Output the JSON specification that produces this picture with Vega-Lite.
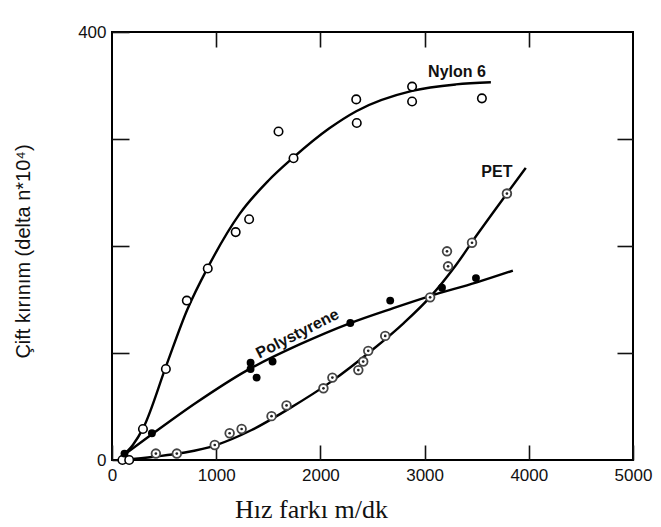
{
  "$schema": "https://vega.github.io/schema/vega-lite/v6.json",
  "width": 521,
  "height": 428,
  "autosize": "none",
  "padding": {"left": 112, "top": 32, "right": 28, "bottom": 67},
  "background": "white",
  "config": {
    "view": {"stroke": "black", "strokeWidth": 2},
    "axis": {"labelFont": "Liberation Sans", "labelFontSize": 17, "labelColor": "#111", "tickColor": "#111", "tickWidth": 1.6, "domain": false, "grid": false, "format": "d"}
  },
  "datasets": {
    "curves": [
      {"series": "Nylon 6", "x": 90, "y": 3}, {"series": "Nylon 6", "x": 200, "y": 14}, {"series": "Nylon 6", "x": 300, "y": 30}, {"series": "Nylon 6", "x": 520, "y": 88}, {"series": "Nylon 6", "x": 720, "y": 140}, {"series": "Nylon 6", "x": 920, "y": 180}, {"series": "Nylon 6", "x": 1225, "y": 230}, {"series": "Nylon 6", "x": 1500, "y": 261}, {"series": "Nylon 6", "x": 1732, "y": 282}, {"series": "Nylon 6", "x": 2086, "y": 310}, {"series": "Nylon 6", "x": 2344, "y": 326}, {"series": "Nylon 6", "x": 2880, "y": 345}, {"series": "Nylon 6", "x": 3300, "y": 351}, {"series": "Nylon 6", "x": 3636, "y": 353},
      {"series": "Polystyrene", "x": 90, "y": 3}, {"series": "Polystyrene", "x": 383, "y": 24}, {"series": "Polystyrene", "x": 800, "y": 53}, {"series": "Polystyrene", "x": 1300, "y": 84}, {"series": "Polystyrene", "x": 1800, "y": 108}, {"series": "Polystyrene", "x": 2287, "y": 128}, {"series": "Polystyrene", "x": 2700, "y": 142}, {"series": "Polystyrene", "x": 3043, "y": 153}, {"series": "Polystyrene", "x": 3500, "y": 166}, {"series": "Polystyrene", "x": 3847, "y": 177},
      {"series": "PET", "x": 110, "y": 0}, {"series": "PET", "x": 400, "y": 3}, {"series": "PET", "x": 700, "y": 7}, {"series": "PET", "x": 1000, "y": 14}, {"series": "PET", "x": 1340, "y": 28}, {"series": "PET", "x": 1700, "y": 48}, {"series": "PET", "x": 2100, "y": 73}, {"series": "PET", "x": 2500, "y": 103}, {"series": "PET", "x": 2800, "y": 128}, {"series": "PET", "x": 3050, "y": 152}, {"series": "PET", "x": 3300, "y": 182}, {"series": "PET", "x": 3500, "y": 210}, {"series": "PET", "x": 3790, "y": 249}, {"series": "PET", "x": 3971, "y": 273}
    ],
    "points": [
      {"series": "Nylon 6", "x": 100, "y": 0}, {"series": "Nylon 6", "x": 165, "y": 0}, {"series": "Nylon 6", "x": 297, "y": 29}, {"series": "Nylon 6", "x": 517, "y": 85}, {"series": "Nylon 6", "x": 718, "y": 149}, {"series": "Nylon 6", "x": 919, "y": 179}, {"series": "Nylon 6", "x": 1187, "y": 213}, {"series": "Nylon 6", "x": 1316, "y": 225}, {"series": "Nylon 6", "x": 1598, "y": 307}, {"series": "Nylon 6", "x": 1742, "y": 282}, {"series": "Nylon 6", "x": 2344, "y": 337}, {"series": "Nylon 6", "x": 2349, "y": 315}, {"series": "Nylon 6", "x": 2880, "y": 349}, {"series": "Nylon 6", "x": 2880, "y": 335}, {"series": "Nylon 6", "x": 3550, "y": 338},
      {"series": "Polystyrene", "x": 120, "y": 6}, {"series": "Polystyrene", "x": 383, "y": 25}, {"series": "Polystyrene", "x": 1330, "y": 91}, {"series": "Polystyrene", "x": 1330, "y": 85}, {"series": "Polystyrene", "x": 1388, "y": 77}, {"series": "Polystyrene", "x": 1541, "y": 92}, {"series": "Polystyrene", "x": 2287, "y": 128}, {"series": "Polystyrene", "x": 2670, "y": 149}, {"series": "Polystyrene", "x": 3167, "y": 161}, {"series": "Polystyrene", "x": 3493, "y": 170},
      {"series": "PET", "x": 421, "y": 6}, {"series": "PET", "x": 622, "y": 6}, {"series": "PET", "x": 986, "y": 14}, {"series": "PET", "x": 1129, "y": 25}, {"series": "PET", "x": 1244, "y": 29}, {"series": "PET", "x": 1531, "y": 41}, {"series": "PET", "x": 1675, "y": 51}, {"series": "PET", "x": 2029, "y": 67}, {"series": "PET", "x": 2115, "y": 77}, {"series": "PET", "x": 2364, "y": 84}, {"series": "PET", "x": 2411, "y": 92}, {"series": "PET", "x": 2459, "y": 102}, {"series": "PET", "x": 2622, "y": 116}, {"series": "PET", "x": 3053, "y": 152}, {"series": "PET", "x": 3225, "y": 181}, {"series": "PET", "x": 3215, "y": 195}, {"series": "PET", "x": 3455, "y": 203}, {"series": "PET", "x": 3790, "y": 249}
    ],
    "labels": [
      {"text": "Nylon 6", "x": 3311, "y": 363, "angle": 0},
      {"text": "PET", "x": 3694, "y": 269, "angle": 0},
      {"text": "Polystyrene", "x": 1780, "y": 118, "angle": -27}
    ]
  },
  "resolve": {"axis": {"x": "independent", "y": "independent"}},
  "layer": [
    {
      "data": {"name": "curves"},
      "mark": {"type": "line", "interpolate": "monotone", "color": "black", "strokeWidth": 2.4},
      "encoding": {
        "x": {"field": "x", "type": "quantitative", "scale": {"domain": [0, 5000], "nice": false},
          "axis": {"orient": "bottom", "values": [0, 1000, 2000, 3000, 4000, 5000], "tickSize": -15, "labelPadding": 22, "labelFlush": false, "labelBaseline": "top",
            "title": "Hız farkı m/dk", "titleFont": "Liberation Serif", "titleFontSize": 26, "titleFontWeight": "normal", "titleColor": "#111", "titleX": 199, "titleY": 57, "titleAlign": "center", "titleBaseline": "alphabetic"}},
        "y": {"field": "y", "type": "quantitative", "scale": {"domain": [0, 400], "nice": false},
          "axis": {"orient": "left", "values": [0, 100, 200, 300, 400], "tickSize": -17, "labelPadding": 23, "labelExpr": "datum.value == 0 || datum.value == 400 ? datum.label : ''",
            "title": "Çift kırınım (delta n*10⁴)", "titleFont": "Liberation Sans", "titleFontSize": 20, "titleFontWeight": "normal", "titleColor": "#111", "titleX": -89, "titleY": 219, "titleAngle": 270, "titleAlign": "center", "titleBaseline": "middle"}},
        "detail": {"field": "series"}
      }
    },
    {
      "data": {"name": "points"},
      "transform": [{"filter": "datum.series == 'Nylon 6'"}],
      "mark": {"type": "point", "shape": "circle", "filled": false, "fill": "white", "fillOpacity": 1, "stroke": "black", "strokeWidth": 1.6, "size": 72, "opacity": 1},
      "encoding": {
        "x": {"field": "x", "type": "quantitative", "axis": {"orient": "top", "values": [1000, 2000, 3000, 4000], "tickSize": -15, "labels": false, "title": null}},
        "y": {"field": "y", "type": "quantitative", "axis": {"orient": "right", "values": [100, 200, 300], "tickSize": -16, "labels": false, "title": null}}
      }
    },
    {
      "data": {"name": "points"},
      "transform": [{"filter": "datum.series == 'Polystyrene'"}],
      "mark": {"type": "point", "shape": "circle", "filled": true, "color": "black", "size": 62, "opacity": 1},
      "encoding": {
        "x": {"field": "x", "type": "quantitative", "axis": null},
        "y": {"field": "y", "type": "quantitative", "axis": null}
      }
    },
    {
      "data": {"name": "points"},
      "transform": [{"filter": "datum.series == 'PET'"}],
      "mark": {"type": "point", "shape": "circle", "filled": false, "fill": "white", "fillOpacity": 1, "stroke": "#444", "strokeWidth": 1.8, "size": 75, "opacity": 1},
      "encoding": {
        "x": {"field": "x", "type": "quantitative", "axis": null},
        "y": {"field": "y", "type": "quantitative", "axis": null}
      }
    },
    {
      "data": {"name": "points"},
      "transform": [{"filter": "datum.series == 'PET'"}],
      "mark": {"type": "point", "shape": "circle", "filled": true, "color": "#222", "size": 7, "opacity": 1},
      "encoding": {
        "x": {"field": "x", "type": "quantitative", "axis": null},
        "y": {"field": "y", "type": "quantitative", "axis": null}
      }
    },
    {
      "data": {"name": "labels"},
      "mark": {"type": "text", "font": "Liberation Sans", "fontSize": 16, "fontWeight": "bold", "color": "#111", "align": "center", "baseline": "middle"},
      "encoding": {
        "x": {"field": "x", "type": "quantitative", "axis": null},
        "y": {"field": "y", "type": "quantitative", "axis": null},
        "text": {"field": "text"},
        "angle": {"field": "angle", "type": "quantitative", "scale": null}
      }
    }
  ]
}
